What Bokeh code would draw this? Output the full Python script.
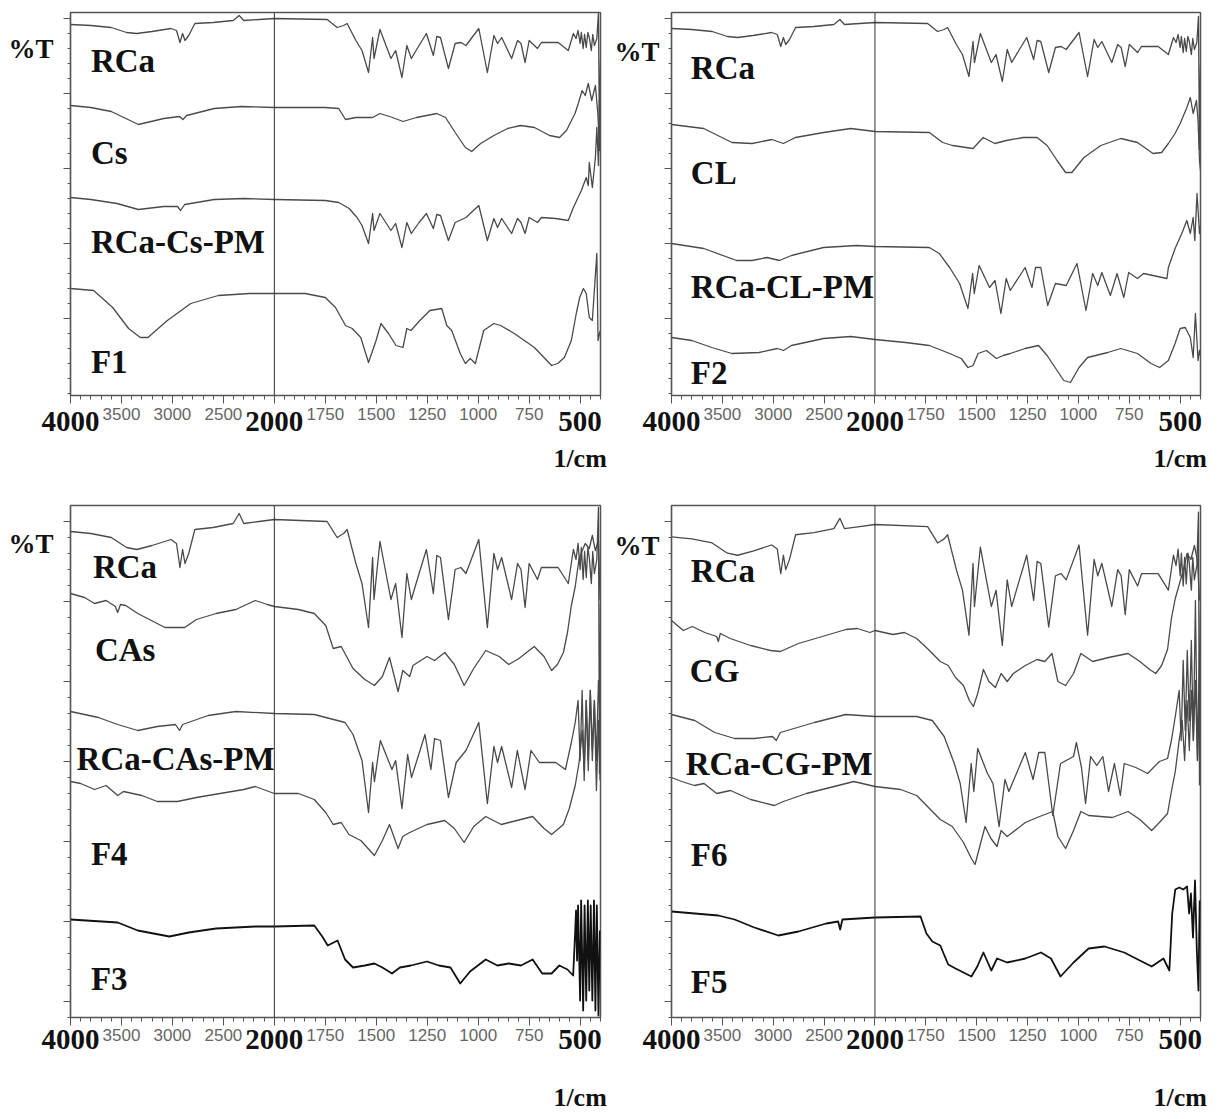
import numpy as np
from bokeh.plotting import figure
from bokeh.models import Range1d, FixedTicker, Span, Label, LinearAxis
from bokeh.layouts import column, row
from bokeh.embed import file_html
from bokeh.resources import INLINE

# ---------------------------------------------------------------------------
# FTIR spectra. Wavenumbers in 1/cm, transmittance in stacked %T units
# (each panel stacks its traces with a vertical offset; no %T scale is shown).
# ---------------------------------------------------------------------------

# Pure drug RCa, baseline-normalised (100 = flat baseline)
RCA_WN = [4000, 3800, 3600, 3450, 3350, 3200, 3015, 2960, 2926, 2900, 2877, 2840, 2780,
          2600, 2404, 2345, 2300, 2150, 2000, 1741, 1692, 1660, 1643, 1600, 1570, 1538,
          1518, 1511, 1482, 1428, 1405, 1374, 1350, 1328, 1290, 1254, 1220, 1203, 1185,
          1146, 1113, 1085, 1060, 997, 955, 923, 905, 885, 836, 807, 790, 770, 750, 709,
          690, 608, 558, 533, 520, 510, 500, 494, 485, 478, 470, 462, 455, 445, 438, 430,
          418, 410, 405, 400]
RCA_T = [94, 93, 91, 86, 85, 87, 90, 88, 76, 85, 78, 83, 95,
         96, 98, 103, 98, 99, 100, 99, 91, 93, 95, 78, 68, 46,
         81, 60, 89, 60, 68, 41, 73, 60, 73, 85, 63, 82, 81,
         50, 75, 76, 73, 90, 46, 83, 75, 81, 60, 78, 75, 56, 78, 70,
         76, 76, 68, 85, 80, 88, 75, 86, 70, 84, 71, 86, 81, 68, 84, 73,
         80, 106, -27, 58]

# Panel (a): chitosan
CS_WN = [4000, 3800, 3600, 3334, 3085, 2930, 2897, 2860, 2590, 2325, 2000, 1750, 1684,
         1651, 1600, 1518, 1482, 1420, 1369, 1303, 1203, 1160, 1113, 1063, 1032, 988,
         923, 856, 792, 724, 650, 601, 567, 525, 509, 490, 475, 460, 443, 425, 413, 405, 400]
CS_T = [295, 293, 289, 276, 282, 284, 281, 285, 292, 294, 293, 293, 292,
        281, 283, 283, 287, 283, 279, 283, 287, 283, 268, 253, 249, 257,
        265, 272, 275, 273, 265, 263, 270, 287, 297, 310, 305, 317, 300, 315, 287, 250, 260]

RCA_CS_PM_WN = [4000, 3800, 3545, 3334, 3085, 2950, 2920, 2880, 2590, 2300, 2000, 1750,
                1684, 1633, 1594, 1570, 1538, 1518, 1511, 1482, 1428, 1405, 1374, 1350,
                1328, 1290, 1254, 1220, 1203, 1185, 1146, 1113, 1060, 997, 955, 923, 905,
                885, 836, 807, 790, 770, 750, 709, 690, 620, 558, 533, 494, 470, 460, 455,
                440, 425, 418, 410, 405, 400]
RCA_CS_PM_T = [203, 201, 197, 191, 194, 194, 190, 196, 201, 202, 201, 200,
               198, 192, 183, 175, 157, 187, 170, 187, 170, 177, 153, 178,
               167, 178, 187, 172, 186, 185, 160, 178, 183, 195, 160, 182, 173,
               182, 167, 182, 178, 167, 183, 178, 183, 182, 180, 193, 210, 223, 215, 238,
               213, 243, 273, 235, 300, 280]

F1_WN = [4000, 3773, 3586, 3430, 3315, 3240, 3050, 2820, 2550, 2245, 2000, 1849, 1750,
         1700, 1651, 1618, 1576, 1538, 1501, 1477, 1440, 1403, 1369, 1350, 1330, 1286,
         1237, 1179, 1154, 1130, 1088, 1063, 1039, 1014, 973, 923, 890, 823, 724, 640,
         610, 577, 543, 518, 502, 484, 470, 455, 440, 418, 412, 405, 400]
F1_T = [112, 110, 93, 72, 63, 63, 80, 97, 105, 107, 107, 107, 103,
        93, 75, 72, 63, 38, 60, 77, 67, 55, 53, 72, 70, 80,
        90, 92, 75, 70, 47, 37, 42, 37, 70, 77, 75, 67, 53, 35,
        37, 43, 60, 88, 103, 112, 107, 83, 80, 147, 60, 67, 70]

# Panel (b): carrier CL
CL_WN = [4000, 3683, 3406, 3208, 3014, 2900, 2782, 2505, 2238, 2000, 1733, 1667, 1619,
         1518, 1468, 1411, 1354, 1271, 1203, 1154, 1105, 1063, 1032, 973, 890, 792, 710,
         633, 591, 558, 525, 500, 467, 450, 436, 420, 412, 405, 400]
CL_T = [276, 272, 258, 257, 261, 257, 263, 268, 272, 269, 268, 258, 255,
        252, 263, 257, 260, 263, 263, 255, 240, 228, 228, 243, 255, 262, 258,
        247, 248, 257, 267, 277, 293, 303, 287, 300, 280, 240, 230]

RCA_CL_PM_WN = [4000, 3683, 3360, 3208, 3060, 2940, 2820, 2505, 2180, 2000, 1733, 1684,
                1633, 1584, 1543, 1520, 1512, 1488, 1437, 1410, 1381, 1355, 1335, 1262,
                1228, 1211, 1185, 1151, 1113, 1060, 1007, 963, 930, 905, 885, 843, 810,
                777, 753, 710, 680, 565, 558, 525, 492, 467, 450, 436, 428, 417, 405, 400]
RCA_CL_PM_T = [157, 152, 140, 140, 143, 140, 145, 153, 155, 154, 153, 147,
               133, 117, 92, 127, 107, 135, 113, 120, 87, 122, 110, 133,
               113, 133, 133, 95, 117, 115, 137, 90, 127, 115, 128, 105, 127,
               103, 128, 122, 127, 122, 133, 152, 167, 180, 167, 183, 160, 207, 167, 175]

F2_WN = [4000, 3800, 3604, 3406, 3139, 2960, 2900, 2820, 2505, 2238, 2000, 1849, 1733,
         1633, 1576, 1543, 1518, 1493, 1452, 1403, 1370, 1335, 1262, 1196, 1154, 1105,
         1072, 1039, 997, 955, 856, 792, 710, 643, 601, 558, 525, 500, 475, 450, 436,
         425, 412, 405, 400]
F2_T = [63, 60, 53, 47, 48, 52, 50, 55, 62, 64, 61, 58, 55,
        47, 42, 33, 35, 47, 50, 42, 45, 47, 52, 55, 45, 30,
        20, 18, 33, 43, 48, 52, 47, 37, 33, 40, 57, 72, 73, 63, 43,
        87, 40, 50, 45]

# Panel (c): carrier CAs
CAS_WN = [4000, 3862, 3764, 3650, 3560, 3537, 3510, 3458, 3340, 3226, 3074, 2880, 2764,
          2572, 2378, 2187, 2069, 2000, 1882, 1804, 1748, 1711, 1672, 1614, 1556, 1509,
          1470, 1435, 1393, 1370, 1336, 1320, 1251, 1214, 1164, 1117, 1069, 1022, 963,
          897, 850, 800, 725, 677, 640, 611, 582, 562, 543, 524, 505, 475, 455, 440, 425,
          410, 402]
CAS_T = [427, 423, 417, 420, 414, 408, 416, 415, 407, 401, 393, 393, 401,
         407, 411, 420, 416, 414, 411, 407, 395, 372, 374, 352, 341, 335,
         344, 363, 329, 350, 344, 355, 364, 360, 368, 356, 335, 352, 370,
         364, 356, 362, 374, 364, 350, 356, 368, 388, 415, 434, 462, 477, 472, 485, 470,
         480, 420]

RCA_CAS_PM_WN = [4000, 3726, 3537, 3340, 3148, 2970, 2930, 2900, 2650, 2378, 2000, 1804,
                 1653, 1614, 1570, 1538, 1518, 1509, 1480, 1423, 1405, 1374, 1346, 1327,
                 1261, 1232, 1214, 1185, 1146, 1108, 1060, 997, 955, 923, 905, 885, 836,
                 808, 770, 741, 700, 620, 572, 543, 524, 510, 500, 490, 480, 470, 460,
                 450, 440, 430, 420, 410, 402]
RCA_CAS_PM_T = [309, 303, 296, 290, 294, 296, 290, 296, 305, 309, 307, 306,
                298, 286, 260, 208, 258, 239, 280, 251, 260, 212, 266, 243,
                286, 251, 282, 280, 223, 258, 270, 298, 217, 274, 258, 274, 233,
                270, 231, 270, 258, 258, 251, 278, 298, 320, 260, 330, 240, 320, 250,
                330, 260, 320, 230, 300, 240]

F4_WN = [4000, 3900, 3764, 3650, 3537, 3480, 3300, 3148, 2950, 2764, 2533, 2300, 2187,
         2000, 1882, 1804, 1748, 1711, 1672, 1634, 1576, 1509, 1470, 1435, 1393, 1370,
         1336, 1251, 1164, 1117, 1069, 1022, 963, 887, 810, 733, 677, 640, 582, 553, 524,
         505, 490, 480, 470, 460, 450, 440, 430, 420, 410, 402]
F4_T = [239, 237, 231, 235, 225, 229, 225, 219, 219, 223, 227, 231, 234,
        227, 227, 221, 208, 196, 198, 186, 180, 165, 180, 196, 172, 184,
        188, 196, 200, 192, 178, 194, 204, 196, 200, 204, 192, 186, 196, 212, 235,
        258, 290, 250, 320, 260, 330, 270, 320, 260, 340, 300]

F3_WN = [4000, 3537, 3340, 3030, 2840, 2572, 2187, 2000, 1804, 1765, 1738, 1690, 1653,
         1614, 1556, 1509, 1470, 1423, 1384, 1330, 1251, 1193, 1136, 1088, 1040, 963, 906,
         850, 790, 733, 686, 640, 602, 562, 534, 524, 520, 515, 510, 500, 495, 485, 478,
         470, 462, 455, 448, 440, 432, 425, 418, 410, 403]
F3_T = [101, 98, 90, 84, 88, 92, 94, 94, 95, 84, 75, 80, 61,
        53, 55, 57, 53, 47, 53, 55, 59, 55, 53, 37, 49, 61, 55,
        57, 55, 61, 47, 47, 55, 51, 45, 90, 110, 60, 115, 20, 120, 10, 115,
        20, 120, 30, 115, 20, 120, 10, 115, 5, 90]

# Panel (d): carrier CG
CG_WN = [4000, 3884, 3795, 3673, 3556, 3540, 3520, 3423, 3222, 3026, 2930, 2752, 2518,
         2287, 2172, 2050, 2000, 1912, 1855, 1795, 1737, 1679, 1640, 1604, 1565, 1536,
         1516, 1495, 1467, 1440, 1408, 1380, 1350, 1320, 1261, 1203, 1165, 1130, 1101,
         1063, 1024, 988, 930, 852, 756, 698, 650, 620, 591, 562, 543, 524, 485, 466,
         447, 430, 415, 405]
CG_T = [400, 390, 394, 388, 384, 379, 387, 382, 375, 370, 369, 377, 384,
        391, 392, 388, 390, 386, 388, 382, 371, 359, 355, 343, 335, 320,
        314, 327, 351, 339, 333, 347, 339, 347, 355, 361, 359, 367, 339,
        335, 347, 367, 359, 363, 367, 359, 351, 347, 355, 371, 402, 422, 450, 467,
        461, 475, 460, 420]

RCA_CG_PM_WN = [4000, 3772, 3575, 3380, 3186, 3007, 2970, 2930, 2596, 2287, 2000, 1795,
                1718, 1660, 1610, 1581, 1552, 1527, 1514, 1495, 1447, 1420, 1390, 1361,
                1342, 1261, 1223, 1195, 1165, 1126, 1088, 1024, 1010, 985, 965, 940, 910,
                880, 852, 823, 794, 775, 718, 660, 602, 562, 543, 524, 505, 495, 485, 475,
                465, 455, 445, 435, 425, 415, 405]
RCA_CG_PM_T = [306, 300, 288, 282, 282, 284, 280, 288, 298, 306, 304, 304,
               300, 284, 257, 237, 198, 257, 229, 272, 247, 237, 194, 241,
               229, 268, 241, 268, 268, 205, 257, 264, 278, 253, 217, 264, 255,
               264, 229, 257, 225, 257, 253, 247, 259, 262, 280, 304, 330, 280, 360, 290,
               370, 300, 380, 280, 420, 260, 370]

F6_WN = [4000, 3900, 3776, 3680, 3556, 3420, 3222, 2988, 2900, 2674, 2440, 2208, 2000,
         1874, 1795, 1737, 1679, 1620, 1565, 1526, 1508, 1485, 1459, 1430, 1400, 1380,
         1350, 1261, 1203, 1126, 1101, 1063, 1024, 988, 950, 833, 756, 698, 640, 602,
         562, 543, 524, 505, 490, 478, 466, 455, 445, 435, 425, 415, 405]
F6_T = [243, 239, 235, 237, 227, 230, 221, 215, 219, 227, 233, 239, 234,
        231, 225, 213, 201, 194, 178, 162, 156, 174, 194, 182, 174, 190,
        184, 198, 203, 209, 184, 172, 190, 209, 205, 203, 209, 201, 190, 198,
        207, 229, 249, 280, 300, 260, 320, 270, 330, 280, 340, 260, 320]

F5_WN = [4000, 3540, 3380, 3186, 2950, 2752, 2479, 2362, 2342, 2320, 2000, 1776, 1747,
         1718, 1679, 1640, 1604, 1526, 1497, 1467, 1428, 1400, 1350, 1261, 1184, 1135,
         1088, 1024, 950, 872, 775, 698, 640, 582, 553, 539, 524, 504, 485, 466, 456,
         447, 437, 427, 418, 410, 404]
F5_T = [109, 105, 101, 93, 85, 89, 97, 99, 91, 101, 103, 104, 87,
        79, 75, 56, 52, 44, 54, 68, 50, 62, 58, 62, 68, 62,
        44, 58, 72, 74, 68, 60, 54, 62, 50, 107, 131, 133, 131, 134, 107,
        127, 83, 140, 70, 30, 120]

# Axis labelling
BIG_TICKS = [4000, 2000, 500]
SMALL_TICKS = [3500, 3000, 2500, 1750, 1500, 1250, 1000, 750]
X_UNIT = "1/cm"
Y_TITLE = "%T"

SERIF = "Liberation Serif"
NARROW = "'Liberation Sans Narrow', 'Liberation Sans', sans-serif"
TRACE = "#4a4a4a"
DARK = "#111111"
FRAME = "#555555"


def wn_to_u(wn):
    """Split wavenumber scale: 4000-2000 drawn at half the scale of 2000-400."""
    wn = np.asarray(wn, dtype=float)
    return np.where(wn >= 2000, (4000.0 - wn) / 2.0, 1000.0 + (2000.0 - wn))


def u_of(wn):
    return int(round(float(wn_to_u([wn])[0])))


def rca_trace(base, scale):
    return base + scale * (np.asarray(RCA_T, dtype=float) - 100.0)


def text_axis(p, side, ticks, labels, font, size, standoff, bold=True, color=DARK):
    """An axis without line or ticks that only carries text labels."""
    ax = LinearAxis(ticker=FixedTicker(ticks=ticks, minor_ticks=[]),
                    major_label_overrides=dict(zip(ticks, labels)),
                    axis_line_color=None, major_tick_line_color=None,
                    minor_tick_line_color=None, major_tick_out=0, major_tick_in=0,
                    minor_tick_out=0, minor_tick_in=0,
                    major_label_standoff=standoff,
                    major_label_text_font=font,
                    major_label_text_font_size=f"{size}px",
                    major_label_text_font_style="bold" if bold else "normal",
                    major_label_text_color=color)
    p.add_layout(ax, side)
    return ax


def make_panel(width, height, borders, y_range, y_major, y_minor, traces, names,
               title_y, title_gap, stand):
    left, right, top, bottom = borders
    p = figure(width=width, height=height, x_range=Range1d(0, 2600),
               y_range=Range1d(*y_range), output_backend="svg", toolbar_location=None,
               min_border_left=left, min_border_right=right,
               min_border_top=top, min_border_bottom=bottom)
    p.xgrid.visible = False
    p.ygrid.visible = False
    p.background_fill_color = "white"
    p.border_fill_color = "white"
    p.outline_line_color = FRAME
    p.outline_line_width = 1.5
    p.outline_line_alpha = 1.0

    big_u = [u_of(v) for v in BIG_TICKS]
    small_u = [u_of(v) for v in SMALL_TICKS]

    # bottom axis: all ticks, small labels on the intermediate values
    p.xaxis.ticker = FixedTicker(ticks=big_u + small_u, minor_ticks=list(range(0, 2601, 50)))
    p.xaxis.major_label_overrides = {**{u: "" for u in big_u},
                                     **{u: str(v) for u, v in zip(small_u, SMALL_TICKS)}}
    p.xaxis.major_label_text_font = NARROW
    p.xaxis.major_label_text_font_size = "17px"
    p.xaxis.major_label_text_color = "#666666"
    p.xaxis.major_label_standoff = stand[0]
    p.xaxis.major_tick_out = 8
    p.xaxis.minor_tick_out = 4

    # left axis: ticks only
    p.yaxis.ticker = FixedTicker(ticks=y_major, minor_ticks=y_minor)
    p.yaxis.major_label_overrides = {t: "" for t in y_major}
    p.yaxis.major_label_text_color = None
    p.yaxis.major_label_standoff = 0
    p.yaxis.major_tick_out = 7
    p.yaxis.minor_tick_out = 3

    for ax in (p.xaxis, p.yaxis):
        ax.axis_line_color = FRAME
        ax.axis_line_width = 1.2
        ax.major_tick_line_color = FRAME
        ax.minor_tick_line_color = FRAME
        ax.major_tick_in = 0
        ax.minor_tick_in = 0

    # large wavenumber labels and the unit, on their own label-only axes
    text_axis(p, "below", big_u, [str(v) for v in BIG_TICKS], SERIF, 29, stand[1])
    text_axis(p, "below", [u_of(500)], [X_UNIT], SERIF, 26, stand[2])
    # %T title at the top of the left side
    text_axis(p, "left", [title_y], [Y_TITLE], SERIF, 27, title_gap)

    p.add_layout(Span(location=1000, dimension="height", line_color="#333333",
                      line_width=1))

    for wn, t, color, lw in traces:
        p.line(x=wn_to_u(wn), y=t, line_color=color, line_width=lw, line_join="round")

    for text, wn, y in names:
        p.add_layout(Label(x=u_of(wn), y=y, text=text, text_font=SERIF,
                           text_font_size="33px", text_font_style="bold",
                           text_color=DARK, text_align="left", text_baseline="middle"))
    return p


TOP_MAJOR = [382, 307, 232, 157, 82]
TOP_MINOR = [382 - 15 * k for k in range(26) if 382 - 15 * k not in TOP_MAJOR]
BOT_MAJOR = [499, 419, 339, 259, 179, 99, 19]
BOT_MINOR = [499 - 16 * k for k in range(32) if 499 - 16 * k not in BOT_MAJOR]

p1 = make_panel(
    610, 475, (70, 10, 12, 80), (5, 388), TOP_MAJOR, TOP_MINOR,
    [(RCA_WN, rca_trace(382, 1.0), TRACE, 1.3),
     (CS_WN, CS_T, TRACE, 1.3),
     (RCA_CS_PM_WN, RCA_CS_PM_T, TRACE, 1.3),
     (F1_WN, F1_T, TRACE, 1.3)],
    [("RCa", 3800, 340), ("Cs", 3800, 248), ("RCa-Cs-PM", 3800, 159), ("F1", 3800, 39)],
    352, 10, (4, -11, 10))

p2 = make_panel(
    609, 475, (61, 19, 12, 80), (5, 388), TOP_MAJOR, TOP_MINOR,
    [(RCA_WN, rca_trace(378, 1.0), TRACE, 1.3),
     (CL_WN, CL_T, TRACE, 1.3),
     (RCA_CL_PM_WN, RCA_CL_PM_T, TRACE, 1.3),
     (F2_WN, F2_T, TRACE, 1.3)],
    [("RCa", 3810, 333), ("CL", 3810, 228), ("RCa-CL-PM", 3810, 114), ("F2", 3810, 28)],
    349, 5, (4, -11, 10))

p3 = make_panel(
    610, 644, (70, 10, 30, 102), (3, 515), BOT_MAJOR, BOT_MINOR,
    [(RCA_WN, rca_trace(501, 2.0), TRACE, 1.3),
     (CAS_WN, CAS_T, TRACE, 1.3),
     (RCA_CAS_PM_WN, RCA_CAS_PM_T, TRACE, 1.3),
     (F4_WN, F4_T, TRACE, 1.3),
     (F3_WN, F3_T, DARK, 1.8)],
    [("RCa", 3780, 454), ("CAs", 3760, 371), ("RCa-CAs-PM", 3940, 262),
     ("F4", 3800, 167), ("F3", 3800, 42)],
    477, 10, (3, -14, 31))

p4 = make_panel(
    609, 644, (61, 19, 30, 102), (3, 515), BOT_MAJOR, BOT_MINOR,
    [(RCA_WN, rca_trace(496, 2.05), TRACE, 1.3),
     (CG_WN, CG_T, TRACE, 1.3),
     (RCA_CG_PM_WN, RCA_CG_PM_T, TRACE, 1.3),
     (F6_WN, F6_T, TRACE, 1.3),
     (F5_WN, F5_T, DARK, 1.8)],
    [("RCa", 3810, 450), ("CG", 3820, 350), ("RCa-CG-PM", 3860, 257),
     ("F6", 3810, 166), ("F5", 3810, 39)],
    475, 5, (3, -14, 31))

layout = column(row(p1, p2), row(p3, p4))
open("out.html", "w").write(file_html(layout, INLINE))
